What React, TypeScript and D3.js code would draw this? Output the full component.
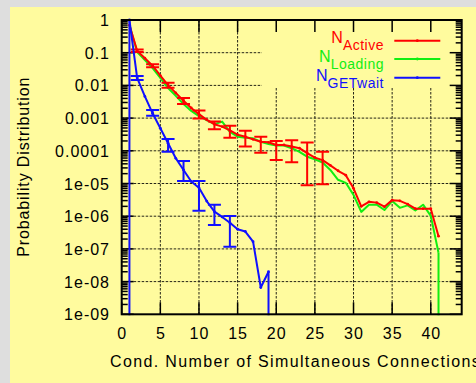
import React from "react";
import * as d3 from "d3";

const xs = d3.range(1, 42);
const activeVals = [0.7, 0.115, 0.068, 0.04, 0.02, 0.0102, 0.0059, 0.0034, 0.00204, 0.00132, 0.00089, 0.00065, 0.00055, 0.00042, 0.00031, 0.00027, 0.000224, 0.00019, 0.000182, 0.000151, 0.000151, 0.000135, 0.00012, 8.5e-5, 6.2e-5, 5.2e-5, 3.6e-5, 2.45e-5, 1.8e-5, 7.1e-6, 2.0e-6, 2.75e-6, 2.6e-6, 1.95e-6, 3.1e-6, 2.95e-6, 2.35e-6, 1.7e-6, 1.7e-6, 1.7e-6, 2.45e-7];
const loadingVals = [0.7, 0.105, 0.06, 0.034, 0.017, 0.0083, 0.0048, 0.0027, 0.00166, 0.00115, 0.00087, 0.00065, 0.00078, 0.00038, 0.00027, 0.00025, 0.00024, 0.00019, 0.000162, 0.000145, 0.000145, 0.00012, 9.3e-5, 6.6e-5, 5.5e-5, 4.4e-5, 2.6e-5, 1.3e-5, 1.05e-5, 4.5e-6, 1.35e-6, 2.25e-6, 2.25e-6, 1.55e-6, 2.9e-6, 1.8e-6, 2.15e-6, 1.5e-6, 2.25e-6, 1.02e-6, 7.6e-8];
const getwaitX = d3.range(1, 20);
const getwaitVals = [1.0, 0.017, 0.0046, 0.0014, 0.00049, 0.00017, 5.9e-5, 2.6e-5, 1.15e-5, 7.4e-6, 2.9e-6, 1.38e-6, 9.5e-7, 6.3e-7, 4.0e-7, 3.4e-7, 1.66e-7, 6.6e-9, 2.0e-8];

const activeErrX = [2, 4, 6, 8, 10, 12, 14, 16, 18, 20, 22, 24, 26];
const activeErrLo = [0.105, 0.036, 0.0085, 0.0027, 0.00098, 0.00046, 0.00025, 0.000135, 8.7e-5, 5.2e-5, 4.5e-5, 8.9e-6, 9.5e-6];
const activeErrHi = [0.126, 0.044, 0.012, 0.0041, 0.0017, 0.00079, 0.00058, 0.00041, 0.00027, 0.0002, 0.00021, 0.00018, 9.3e-5];
const getwaitErrX = [2, 4, 6, 8, 10, 12, 14];
const getwaitErrLo = [0.0146, 0.00117, 9.3e-5, 1.2e-5, 1.48e-6, 5.4e-7, 1.17e-7];
const getwaitErrHi = [0.0195, 0.00178, 0.00023, 4.9e-5, 1.2e-5, 2.24e-6, 1.02e-6];

// x positions where a curve falls to zero (drawn down to the axis floor)
const getwaitDropX = [1, 19];
const loadingDropX = [41];

const xTicks = [0, 5, 10, 15, 20, 25, 30, 35, 40];
const yTicks = [1, 0.1, 0.01, 0.001, 0.0001, 1e-5, 1e-6, 1e-7, 1e-8, 1e-9];
const yTickLabels = ["1", "0.1", "0.01", "0.001", "0.0001", "1e-05", "1e-06", "1e-07", "1e-08", "1e-09"];

const RED = "#ff0000";
const GREEN = "#11ee11";
const BLUE = "#1010ff";
const FONT = "'Liberation Sans', Arial, sans-serif";

export default function App() {
  const L = 121.7, R = 461.7, T = 20, B = 314.3;
  const x = d3.scaleLinear().domain([0, 44]).range([L, R]);
  const y = d3.scaleLog().domain([1e-9, 1]).range([B, T]);

  const minor: number[] = [];
  for (let k = -9; k < 0; k++) for (let m = 2; m <= 9; m++) minor.push(m * Math.pow(10, k));

  const line = d3.line<[number, number]>().x((d) => x(d[0])).y((d) => y(d[1]));
  const active = xs.map((v, i) => [v, activeVals[i]] as [number, number]);
  const loading = xs.map((v, i) => [v, loadingVals[i]] as [number, number]);
  const getwait = getwaitX.map((v, i) => [v, getwaitVals[i]] as [number, number]);

  const keyX0 = 262, keyY1 = 88;
  const capHalf = 6.5;

  const errBars = (ex: number[], lo: number[], hi: number[], color: string) =>
    ex.map((v, i) => {
      const cx = x(v), y1 = y(lo[i]), y2 = y(hi[i]);
      return (
        <g key={"e" + color + i} stroke={color} strokeWidth={2} fill="none">
          <line x1={cx} x2={cx} y1={y1} y2={y2} />
          <line x1={cx - capHalf} x2={cx + capHalf} y1={y1} y2={y1} />
          <line x1={cx - capHalf} x2={cx + capHalf} y1={y2} y2={y2} />
        </g>
      );
    });

  const drops = (dx: number[], data: [number, number][], color: string) =>
    dx.map((v, i) => {
      const d = data.find((p) => p[0] === v)!;
      return <line key={"d" + color + i} x1={x(v)} x2={x(v)} y1={y(d[1])} y2={B + 2} stroke={color} strokeWidth={2} />;
    });

  const dots = (data: [number, number][], color: string) =>
    data.map((d, i) => <circle key={"p" + color + i} cx={x(d[0])} cy={y(d[1])} r={1.4} fill={color} />);

  const legend = [
    { sub: "Active", color: RED, yN: 43.3, yl: 40.7 },
    { sub: "Loading", color: GREEN, yN: 62.0, yl: 59 },
    { sub: "GETwait", color: BLUE, yN: 80.7, yl: 77.7 },
  ];

  return (
    <svg width={476} height={383} style={{ position: "absolute", left: 0, top: 0 }} fontFamily={FONT}>
      <defs>
        <clipPath id="plotclip">
          <rect x={L} y={T - 2} width={R - L} height={B - T + 3} />
        </clipPath>
      </defs>
      <rect x={0} y={0} width={476} height={383} fill="#dedede" />
      <rect x={10} y={7} width={466} height={376} fill="#fffb9e" />

      {/* grid */}
      <g stroke="#000" strokeWidth={1} strokeDasharray="2.5,1.5" opacity={0.85}>
        {xTicks.filter((t) => t > 0).map((t) => (
          <line key={"gx" + t} x1={x(t)} x2={x(t)} y1={x(t) > keyX0 ? keyY1 : T} y2={B} />
        ))}
        {yTicks.slice(1, -1).map((t) => (
          <line key={"gy" + t} x1={L} x2={y(t) < keyY1 ? keyX0 : R} y1={y(t)} y2={y(t)} />
        ))}
      </g>

      {/* ticks */}
      <g stroke="#000" strokeWidth={1.5}>
        {xTicks.map((t) => (
          <g key={"tx" + t}>
            <line x1={x(t)} x2={x(t)} y1={B} y2={B - 12} />
            <line x1={x(t)} x2={x(t)} y1={T} y2={T + 12} />
          </g>
        ))}
        {yTicks.map((t) => (
          <g key={"ty" + t}>
            <line x1={L} x2={L + 12} y1={y(t)} y2={y(t)} />
            <line x1={R} x2={R - 12} y1={y(t)} y2={y(t)} />
          </g>
        ))}
        {minor.map((t, i) => (
          <g key={"tm" + i}>
            <line x1={L} x2={L + 6} y1={y(t)} y2={y(t)} />
            <line x1={R} x2={R - 6} y1={y(t)} y2={y(t)} />
          </g>
        ))}
      </g>

      {/* data */}
      <g clipPath="url(#plotclip)" strokeLinejoin="round">
        <path d={line(loading)!} fill="none" stroke={GREEN} strokeWidth={2} />
        {drops(loadingDropX, loading, GREEN)}
        <path d={line(active)!} fill="none" stroke={RED} strokeWidth={2} />
        {errBars(activeErrX, activeErrLo, activeErrHi, RED)}
        {dots(active, RED)}
        <path d={line(getwait)!} fill="none" stroke={BLUE} strokeWidth={2} />
        {drops(getwaitDropX, getwait, BLUE)}
        {errBars(getwaitErrX, getwaitErrLo, getwaitErrHi, BLUE)}
        {dots(getwait, BLUE)}
      </g>

      {/* border */}
      <rect x={L} y={T} width={R - L} height={B - T} fill="none" stroke="#000" strokeWidth={2} />

      {/* tick labels */}
      <g fontSize={16} fill="#000" letterSpacing={1}>
        {yTicks.map((t, i) => (
          <text key={"ly" + t} x={110} y={y(t) + 6} textAnchor="end">{yTickLabels[i]}</text>
        ))}
        {xTicks.map((t) => (
          <text key={"lx" + t} x={x(t) + 0.5} y={339} textAnchor="middle">{String(t)}</text>
        ))}
      </g>

      <text x={110} y={366.5} fontSize={16} letterSpacing={1.36} fill="#000">Cond. Number of Simultaneous Connections</text>
      <text transform={`translate(28.5,166.7) rotate(-90)`} fontSize={16} letterSpacing={0.87} textAnchor="middle" fill="#000">Probability Distribution</text>

      {/* legend */}
      {legend.map((l) => (
        <g key={l.sub}>
          <text x={384} y={l.yN} textAnchor="end" fill={l.color}>
            <tspan fontSize={16}>N</tspan>
            <tspan fontSize={14} dy={7} letterSpacing={0.5}>{l.sub}</tspan>
          </text>
          <line x1={394.3} x2={440.3} y1={l.yl} y2={l.yl} stroke={l.color} strokeWidth={2} />
          <circle cx={417.3} cy={l.yl} r={1.4} fill={l.color} />
        </g>
      ))}
    </svg>
  );
}
